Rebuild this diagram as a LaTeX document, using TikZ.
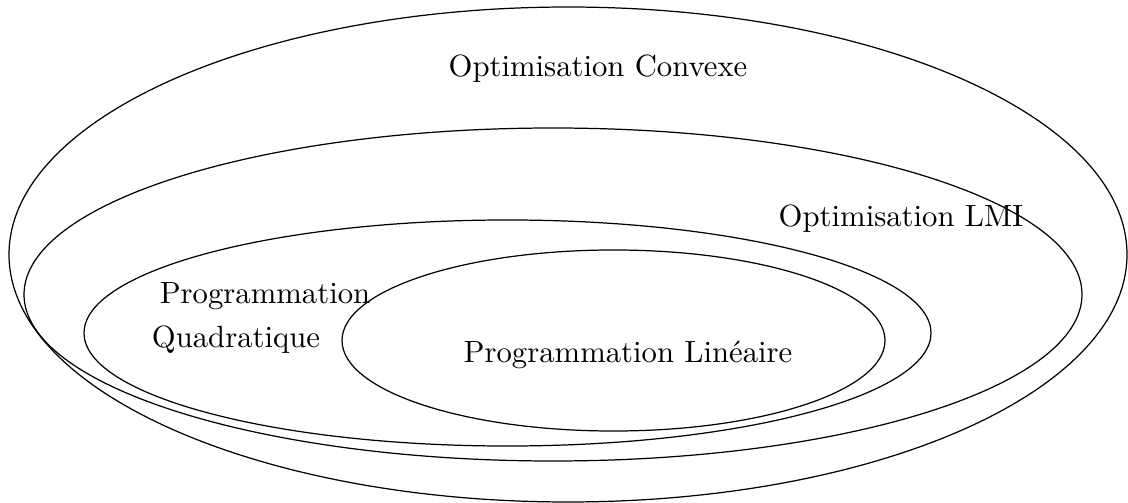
\documentclass[tikz,border=0pt]{standalone}
\begin{document}
\begin{tikzpicture}[x=0.325709pt,y=-0.325709pt,
  setline/.style={draw=black,line width=0.4pt},
  lbl/.style={anchor=base,inner sep=0pt,font=\normalsize}]
\useasboundingbox (0,0) rectangle (1128,503);
% sets
\draw[setline] (568,254.5) ellipse [x radius=182.07pt, y radius=80.61pt];
\draw[setline] (553,294.5) ellipse [x radius=172.30pt, y radius=54.23pt];
\draw[setline] (507.5,333) ellipse [x radius=137.94pt, y radius=36.81pt];
\draw[setline] (613.5,340.5) ellipse [x radius=88.43pt, y radius=29.48pt];
% labels
\node[lbl] (convexe) at (598,77) {Optimisation Convexe};
\node[lbl] (lmi) at (901,226.7) {Optimisation LMI};
\node[lbl] (prog) at (265,303) {Programmation};
\node[lbl] (quad) at (236,348) {Quadratique};
\node[lbl] (lin) at (628,362.7) {Programmation Linéaire};
\end{tikzpicture}
\end{document}
